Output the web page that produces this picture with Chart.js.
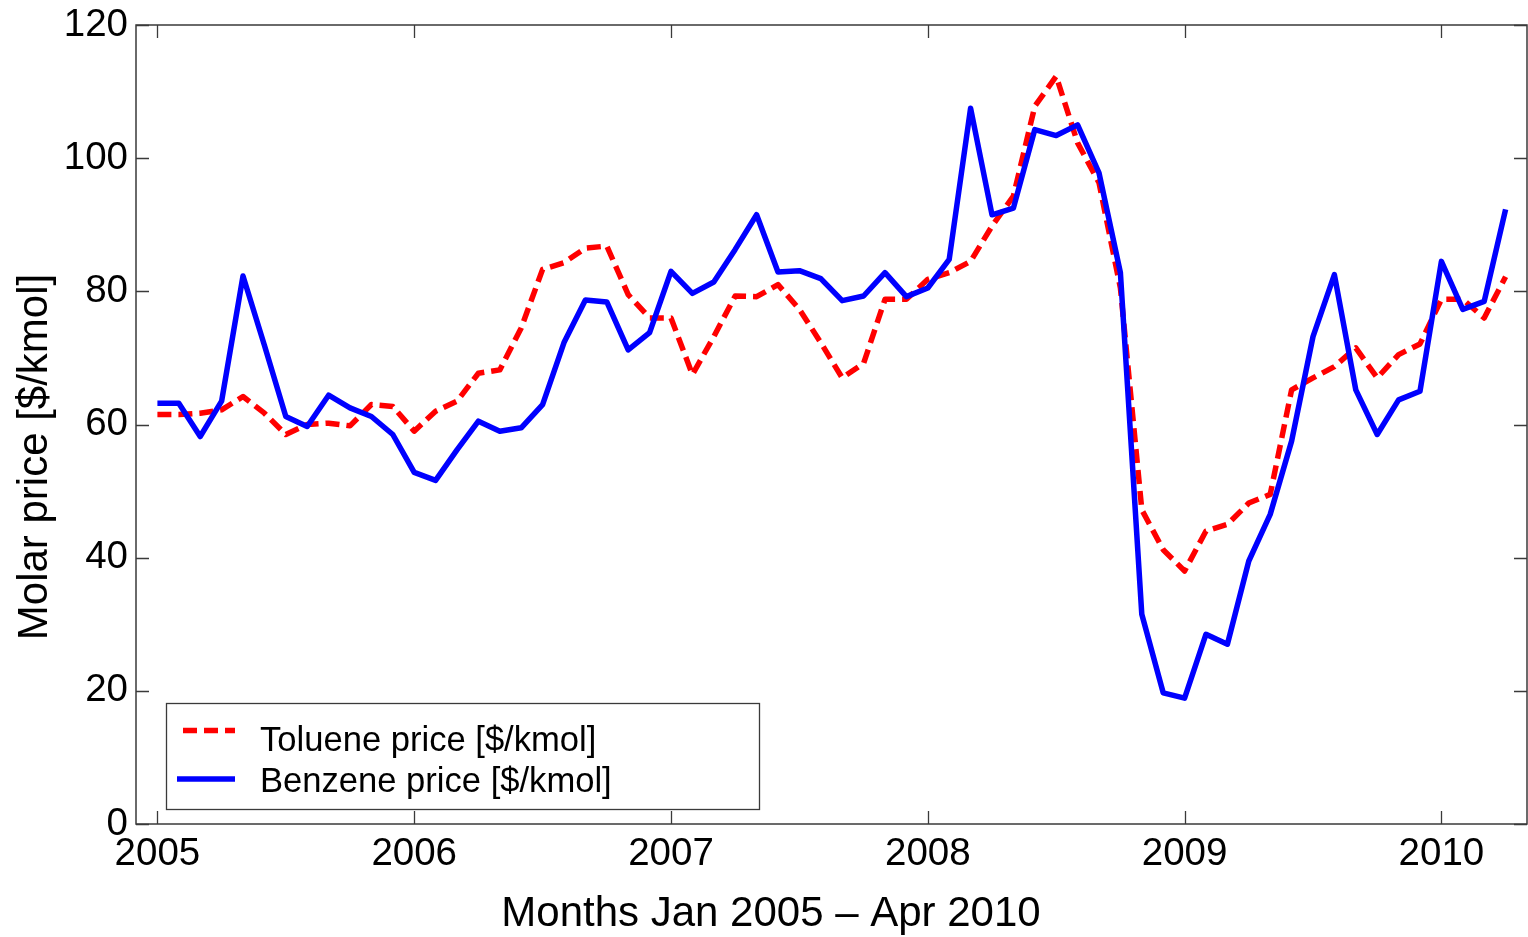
<!DOCTYPE html>
<html><head><meta charset="utf-8">
<script src="https://cdn.jsdelivr.net/npm/chart.js@4.4.1/dist/chart.umd.min.js"></script>
<style>html,body{margin:0;padding:0;background:#fff;}#wrap{width:1528px;height:937px;position:relative}canvas{display:block}</style>
</head><body><div id="wrap"><canvas id="c" width="1528" height="937" style="width:1528px;height:937px"></canvas></div>
<script>
// Categories: months Jan 2005 – Apr 2010
const monthLabels = [
 'Jan 2005','Feb 2005','Mar 2005','Apr 2005','May 2005','Jun 2005','Jul 2005','Aug 2005','Sep 2005','Oct 2005','Nov 2005','Dec 2005',
 'Jan 2006','Feb 2006','Mar 2006','Apr 2006','May 2006','Jun 2006','Jul 2006','Aug 2006','Sep 2006','Oct 2006','Nov 2006','Dec 2006',
 'Jan 2007','Feb 2007','Mar 2007','Apr 2007','May 2007','Jun 2007','Jul 2007','Aug 2007','Sep 2007','Oct 2007','Nov 2007','Dec 2007',
 'Jan 2008','Feb 2008','Mar 2008','Apr 2008','May 2008','Jun 2008','Jul 2008','Aug 2008','Sep 2008','Oct 2008','Nov 2008','Dec 2008',
 'Jan 2009','Feb 2009','Mar 2009','Apr 2009','May 2009','Jun 2009','Jul 2009','Aug 2009','Sep 2009','Oct 2009','Nov 2009','Dec 2009',
 'Jan 2010','Feb 2010','Mar 2010','Apr 2010'
];
const toluenePrice = [
 61.5,61.5,61.7,62.2,64.2,61.7,58.5,60.0,60.2,59.8,63.0,62.7,
 59.0,62.0,63.5,67.7,68.2,74.5,83.3,84.3,86.5,86.8,79.5,76.0,
 76.0,67.5,73.2,79.3,79.2,81.0,77.3,72.3,67.0,69.2,78.8,78.8,
 81.8,82.8,84.5,89.8,94.3,107.8,112.3,102.3,96.3,80.5,47.2,41.2,
 38.0,44.0,45.0,48.2,49.5,65.2,67.0,68.7,71.5,67.0,70.5,72.1,
 78.8,78.8,76.0,82.2
];
const benzenePrice = [
 63.2,63.2,58.2,63.5,82.3,71.9,61.2,59.7,64.4,62.5,61.2,58.5,
 52.8,51.6,56.2,60.5,59.0,59.5,63.0,72.3,78.7,78.4,71.2,73.8,
 83.0,79.7,81.4,86.3,91.5,82.9,83.1,81.9,78.6,79.3,82.8,79.2,
 80.5,84.8,107.5,91.5,92.5,104.3,103.4,105.0,97.8,82.8,31.5,19.7,
 18.9,28.5,27.0,39.5,46.5,57.5,73.2,82.5,65.2,58.5,63.7,65.0,
 84.5,77.3,78.5,92.3
];
const yearTickLabels = ['2005','2006','2007','2008','2009','2010'];
const yearTickMonth = ['Jan 2005','Jan 2006','Jan 2007','Jan 2008','Jan 2009','Jan 2010'];
const yTicks = [0,20,40,60,80,100,120];
const seriesNames = ['Toluene price [$/kmol]','Benzene price [$/kmol]'];
const xTitle = 'Months Jan 2005 \u2013 Apr 2010';
const yTitle = 'Molar price [$/kmol]';

const FONT = "'Liberation Sans', Arial, sans-serif";
const AXIS_COLOR = '#3a3a3a';
const tickPos = yearTickMonth.map(m => monthLabels.indexOf(m));
const toPoints = arr => arr.map((v,i) => ({x: i, y: v}));

const framePlugin = {
  id: 'frame',
  afterDraw(chart) {
    const {ctx, chartArea: a, scales: {x, y}} = chart;
    ctx.save();
    ctx.strokeStyle = AXIS_COLOR;
    ctx.lineWidth = 1.5;
    ctx.strokeRect(a.left, a.top, a.right - a.left, a.bottom - a.top);
    const L = 13;
    ctx.beginPath();
    tickPos.forEach(v => {
      const px = Math.round(x.getPixelForValue(v)) + 0.5;
      ctx.moveTo(px, a.bottom); ctx.lineTo(px, a.bottom - L);
      ctx.moveTo(px, a.top); ctx.lineTo(px, a.top + L);
    });
    yTicks.forEach(v => {
      const py = Math.round(y.getPixelForValue(v)) + 0.5;
      ctx.moveTo(a.left, py); ctx.lineTo(a.left + L, py);
      ctx.moveTo(a.right, py); ctx.lineTo(a.right - L, py);
    });
    ctx.lineWidth = 1.3;
    ctx.stroke();

    // axis titles
    ctx.fillStyle = '#000';
    ctx.font = '42px ' + FONT;
    ctx.textAlign = 'center';
    ctx.textBaseline = 'middle';
    ctx.fillText(xTitle, 771, 914);
    ctx.translate(35, 457);
    ctx.rotate(-Math.PI / 2);
    ctx.fillText(yTitle, 0, 0);
    ctx.restore();

    // legend
    ctx.save();
    const bx = a.left + 30, by = 703, bw = 593, bh = 106;
    ctx.fillStyle = '#fff';
    ctx.fillRect(bx, by, bw, bh);
    ctx.strokeStyle = AXIS_COLOR;
    ctx.lineWidth = 1.3;
    ctx.strokeRect(bx + 0.5, by + 0.5, bw, bh);
    const rows = [{ly: 730.5, ty: 741}, {ly: 779, ty: 782}];
    chart.data.datasets.forEach((ds, i) => {
      ctx.strokeStyle = ds.borderColor;
      ctx.lineWidth = ds.borderWidth;
      ctx.setLineDash(ds.borderDash || []);
      ctx.lineCap = 'butt';
      ctx.beginPath();
      ctx.moveTo(i === 0 ? 183 : 177, rows[i].ly);
      ctx.lineTo(235, rows[i].ly);
      ctx.stroke();
      ctx.setLineDash([]);
      ctx.fillStyle = '#000';
      ctx.font = '34.6px ' + FONT;
      ctx.textAlign = 'left';
      ctx.textBaseline = 'middle';
      ctx.fillText(ds.label, 260, rows[i].ty);
    });
    ctx.restore();
  }
};

new Chart(document.getElementById('c'), {
  type: 'line',
  data: {
    datasets: [
      {label: seriesNames[0], data: toPoints(toluenePrice), borderColor: '#ff0000', borderWidth: 5.5,
       borderDash: [14, 7], pointRadius: 0, tension: 0, fill: false, order: 2, borderJoinStyle: 'round'},
      {label: seriesNames[1], data: toPoints(benzenePrice), borderColor: '#0000ff', borderWidth: 5.5,
       pointRadius: 0, tension: 0, fill: false, order: 1, borderJoinStyle: 'round'}
    ]
  },
  options: {
    responsive: false,
    maintainAspectRatio: false,
    animation: false,
    devicePixelRatio: 1,
    layout: {padding: {top: 25, right: 1, left: 0, bottom: 0}},
    plugins: {legend: {display: false}, tooltip: {enabled: false}},
    scales: {
      x: {
        type: 'linear', min: -1, max: 64,
        afterBuildTicks: s => { s.ticks = tickPos.map(v => ({value: v})); },
        afterFit: s => { s.height = 113; s.paddingLeft = 0; s.paddingRight = 0; },
        grid: {display: false, drawTicks: false},
        border: {display: false},
        ticks: {
          callback: v => yearTickLabels[tickPos.indexOf(v)],
          font: {family: FONT, size: 38.5}, color: '#000', padding: 7,
          maxRotation: 0, autoSkip: false
        }
      },
      y: {
        min: 0, max: 120,
        afterBuildTicks: s => { s.ticks = yTicks.map(v => ({value: v})); },
        afterFit: s => { s.width = 136; s.paddingTop = 0; s.paddingBottom = 0; },
        grid: {display: false, drawTicks: false},
        border: {display: false},
        ticks: {font: {family: FONT, size: 38.5}, color: '#000', padding: 8}
      }
    }
  },
  plugins: [framePlugin]
});
</script></body></html>
